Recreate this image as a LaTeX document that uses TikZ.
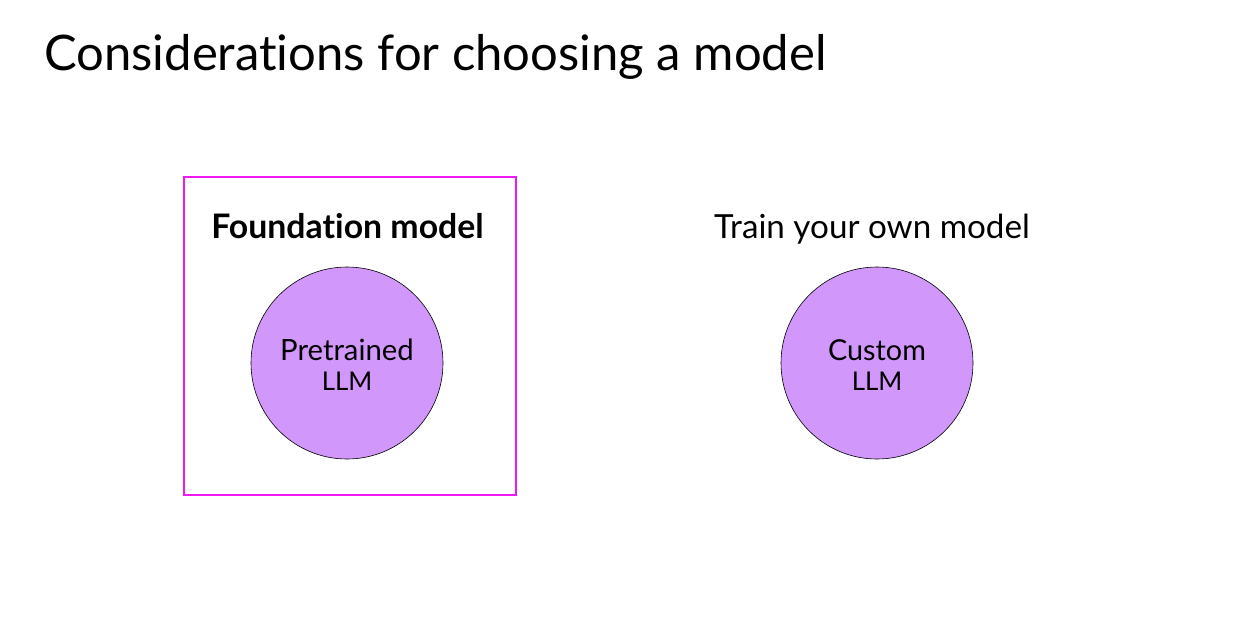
\documentclass[tikz,border=0pt]{standalone}
\usepackage{fontspec}
\setmainfont{Lato}[Ligatures=NoCommon]
\definecolor{boxpink}{HTML}{F018F0}
\definecolor{llmfill}{HTML}{D197FB}
\tikzset{
  llm/.style={circle, draw=black, line width=0.6pt, fill=llmfill, minimum size=192pt, inner sep=0pt, align=center},
  heading/.style={anchor=base, inner sep=0pt},
  inlabel/.style={anchor=base, inner sep=0pt},
}
\begin{document}
\begin{tikzpicture}[x=1pt, y=-1pt]
  \useasboundingbox (0,0) rectangle (1254,629);
  % title
  \node[anchor=base west, inner sep=0pt, font=\fontsize{49}{55}\selectfont] (title) at (44,70) {Considerations for choosing a model};
  % left option framed
  \node[draw=boxpink, line width=1.8pt, minimum width=332pt, minimum height=318pt, inner sep=0pt] (frame) at (350,336) {};
  \node[heading, font=\fontsize{33.8}{38}\bfseries] (found) at (347.5,238) {Foundation model};
  \node[llm] (pre) at (347,363) {};
  \node[inlabel, font=\fontsize{29.3}{33}\selectfont] (pret) at (347,360) {Pretrained};
  \node[inlabel, font=\fontsize{25.8}{30}\selectfont] (prel) at (347,390) {LLM};
  % right option
  \node[heading, font=\fontsize{33.2}{38}\selectfont] (train) at (872,238) {Train your own model};
  \node[llm] (cus) at (877,363) {};
  \node[inlabel, font=\fontsize{28.8}{33}\selectfont] (cust) at (877,360) {Custom};
  \node[inlabel, font=\fontsize{25.8}{30}\selectfont] (cusl) at (877,390) {LLM};
\end{tikzpicture}
\end{document}
